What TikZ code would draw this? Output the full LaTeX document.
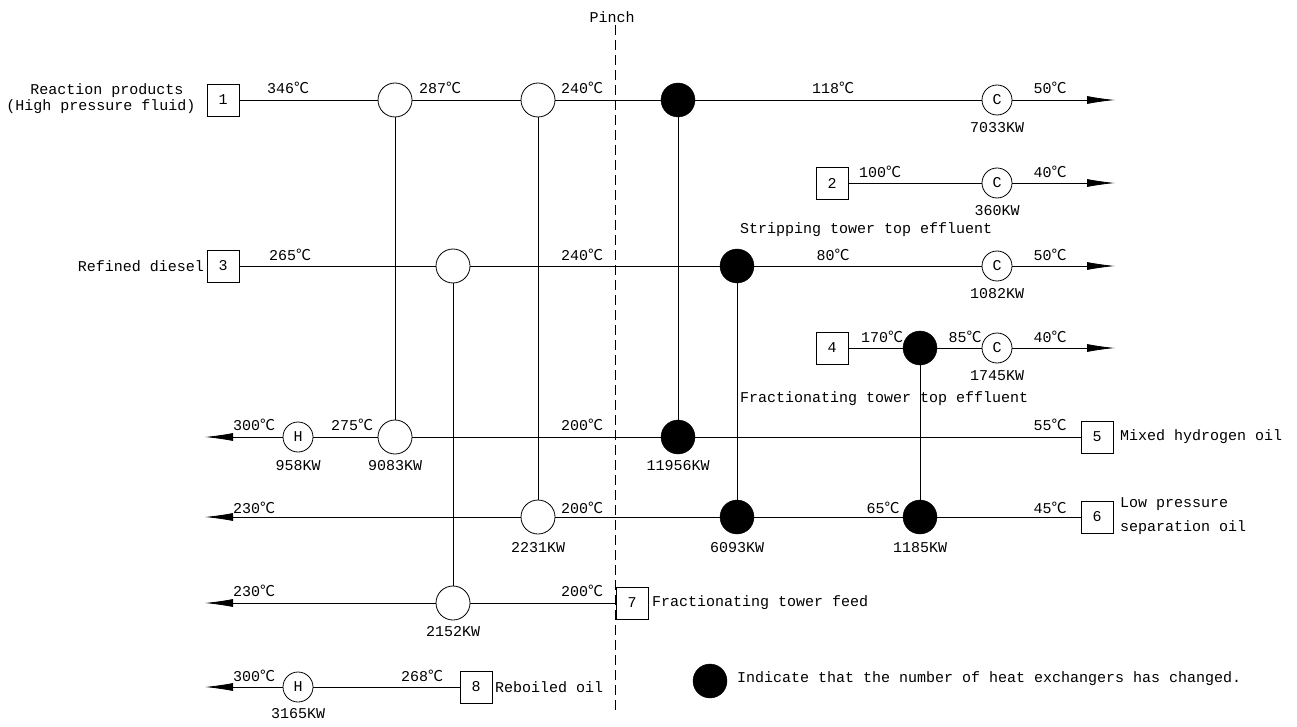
\documentclass[tikz,border=0pt]{standalone}
\usepackage{fontspec}
\setmainfont{Liberation Mono}
\newfontfamily\cj{Noto Sans CJK SC}
\usetikzlibrary{arrows.meta}
\newcommand{\dg}{{\cj ℃}}
\begin{document}
\begin{tikzpicture}[x=1pt,y=-1pt,font=\fontsize{15}{17}\selectfont,
  ln/.style={line width=0.8pt},
  ar/.style={ln,-{Latex[length=28pt,width=8pt]}},
  oc/.style={circle,draw,line width=0.8pt,minimum size=34pt,inner sep=0pt,fill=white},
  fc/.style={circle,draw,fill=black,minimum size=34pt,inner sep=0pt},
  bx/.style={draw,line width=0.8pt,minimum width=32pt,minimum height=32pt,inner sep=0pt,fill=white},
  lb/.style={inner sep=0pt}]
\useasboundingbox (0,0) rectangle (1297,727);
% pinch
\coordinate (pt) at (615,25); \coordinate (pb) at (615,712);
\draw[ln,dashed,dash pattern=on 10pt off 5pt] (pt) -- (pb);
\node[lb] at (612,17) {Pinch};
% boxes
\node[bx] (b1) at (223,100) {1};
\node[bx] (b2) at (832,183) {2};
\node[bx] (b3) at (223,266) {3};
\node[bx] (b4) at (832,348) {4};
\node[bx] (b5) at (1097,437) {5};
\node[bx] (b6) at (1097,517) {6};
\node[bx] (b7) at (632,603) {7};
\node[bx] (b8) at (476,687) {8};
% ends
\coordinate (e1) at (1115,100); \coordinate (e2) at (1115,183);
\coordinate (e3) at (1115,266); \coordinate (e4) at (1115,348);
\coordinate (e5) at (205,437); \coordinate (e6) at (205,517);
\coordinate (e7) at (205,603); \coordinate (e8) at (205,687);
% stream lines
\draw[ar] (b1) -- (e1); \draw[ar] (b2) -- (e2); \draw[ar] (b3) -- (e3); \draw[ar] (b4) -- (e4);
\draw[ar] (b5) -- (e5); \draw[ar] (b6) -- (e6); \draw[ar] (b7) -- (e7); \draw[ar] (b8) -- (e8);
% matches (coords for verticals)
\coordinate (a1) at (395,100); \coordinate (a2) at (395,437);
\coordinate (c1) at (538,100); \coordinate (c2) at (538,517);
\coordinate (d1) at (678,100); \coordinate (d2) at (678,437);
\coordinate (f1) at (453,266); \coordinate (f2) at (453,603);
\coordinate (g1) at (737,266); \coordinate (g2) at (737,517);
\coordinate (h1) at (920,348); \coordinate (h2) at (920,517);
\draw[ln] (a1)--(a2); \draw[ln] (c1)--(c2); \draw[ln] (d1)--(d2);
\draw[ln] (f1)--(f2); \draw[ln] (g1)--(g2); \draw[ln] (h1)--(h2);
\node[oc] (n1) at (a1) {}; \node[oc] (n2) at (a2) {};
\node[oc] (n3) at (c1) {}; \node[oc] (n4) at (c2) {};
\node[fc] (n5) at (d1) {}; \node[fc] (n6) at (d2) {};
\node[oc] (n7) at (f1) {}; \node[oc] (n8) at (f2) {};
\node[fc] (n9) at (g1) {}; \node[fc] (n10) at (g2) {};
\node[fc] (n11) at (h1) {}; \node[fc] (n12) at (h2) {};
% utilities
\node[oc,minimum size=30pt] (u1) at (997,100) {C};
\node[oc,minimum size=30pt] (u2) at (997,183) {C};
\node[oc,minimum size=30pt] (u3) at (997,266) {C};
\node[oc,minimum size=30pt] (u4) at (997,348) {C};
\node[oc,minimum size=30pt] (u5) at (298,437) {H};
\node[oc,minimum size=30pt] (u6) at (298,687) {H};
% legend
\node[fc] (lg) at (710,681) {};
\node[lb,anchor=west] (lgt) at (737,679) {Indicate that the number of heat exchangers has changed.};
% stream names
\node[lb] at (107,91) {Reaction products};
\node[lb] at (101,107) {(High pressure fluid)};
\node[lb,anchor=east] at (204,266) {Refined diesel};
\node[lb,anchor=west] at (1120,437) {Mixed hydrogen oil};
\node[lb,anchor=west] at (1120,504) {Low pressure};
\node[lb,anchor=west] at (1120,528) {separation oil};
\node[lb,anchor=west] at (652,603) {Fractionating tower feed};
\node[lb,anchor=west] at (495,687) {Reboiled oil};
\node[lb,anchor=west] at (740,230) {Stripping tower top effluent};
\node[lb,anchor=west] at (740,399) {Fractionating tower top effluent};
% temperatures
\node[lb] at (288,88) {346\dg}; \node[lb] at (440,88) {287\dg}; \node[lb] at (582,88) {240\dg};
\node[lb] at (833,88) {118\dg}; \node[lb] at (1050,88) {50\dg};
\node[lb] at (880,172) {100\dg}; \node[lb] at (1050,172) {40\dg};
\node[lb] at (290,255) {265\dg}; \node[lb] at (582,255) {240\dg}; \node[lb] at (833,255) {80\dg}; \node[lb] at (1050,255) {50\dg};
\node[lb] at (882,337) {170\dg}; \node[lb] at (965,337) {85\dg}; \node[lb] at (1050,337) {40\dg};
\node[lb] at (254,425) {300\dg}; \node[lb] at (352,425) {275\dg}; \node[lb] at (582,425) {200\dg}; \node[lb] at (1050,425) {55\dg};
\node[lb] at (254,508) {230\dg}; \node[lb] at (582,508) {200\dg}; \node[lb] at (883,508) {65\dg}; \node[lb] at (1050,508) {45\dg};
\node[lb] at (254,591) {230\dg}; \node[lb] at (582,591) {200\dg};
\node[lb] at (254,676) {300\dg}; \node[lb] at (422,676) {268\dg};
% loads
\node[lb] at (997,128) {7033KW}; \node[lb] at (997,211) {360KW};
\node[lb] at (997,294) {1082KW}; \node[lb] at (997,376) {1745KW};
\node[lb] at (298,466) {958KW}; \node[lb] at (395,466) {9083KW}; \node[lb] at (678,466) {11956KW};
\node[lb] at (538,548) {2231KW}; \node[lb] at (737,548) {6093KW}; \node[lb] at (920,548) {1185KW};
\node[lb] at (453,632) {2152KW}; \node[lb] at (298,714) {3165KW};
\end{tikzpicture}
\end{document}
